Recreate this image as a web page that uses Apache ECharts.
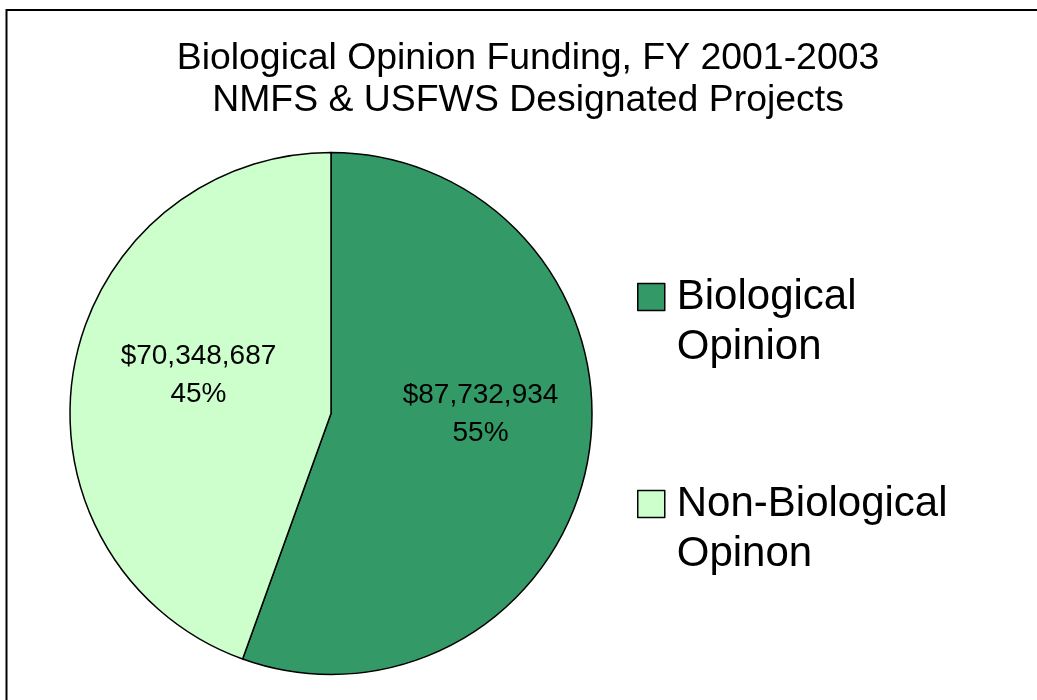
<!DOCTYPE html>
<html>
<head>
<meta charset="utf-8">
<title>Biological Opinion Funding</title>
<script src="https://cdn.jsdelivr.net/npm/echarts@6/dist/echarts.min.js"></script>
<style>
  html, body { margin: 0; padding: 0; background: #fff; }
  #chart { width: 1037px; height: 700px; }
</style>
</head>
<body>
<div id="chart"></div>
<script>
  // 数据
  var categories = ['Biological\nOpinion', 'Non-Biological\nOpinon'];
  var funding = [87732934, 70348687];
  var sliceColors = ['#339966', '#ccffcc'];
  // 标签微调（Excel 的标签位置和 echarts 不完全一样）
  var labelOffsets = [[18, -22], [-1, -15]];

  var total = funding.reduce(function (a, b) { return a + b; }, 0);

  function money(v) {
    return '$' + String(v).replace(/\B(?=(\d{3})+(?!\d))/g, ',');
  }

  var chart = echarts.init(document.getElementById('chart'));
  chart.setOption({
    backgroundColor: '#fff',
    animation: false,
    textStyle: { fontFamily: 'Liberation Sans, Arial, sans-serif' },
    title: {
      text: 'Biological Opinion Funding, FY 2001-2003\nNMFS & USFWS Designated Projects',
      left: 528,
      textAlign: 'center',
      top: 38,
      padding: 0,
      textStyle: {
        color: '#000',
        fontWeight: 'normal',
        fontSize: 37.4,
        lineHeight: 42,
        fontFamily: 'Liberation Sans, Arial, sans-serif'
      }
    },
    legend: {
      orient: 'vertical',
      left: 637,
      top: 222,
      padding: 0,
      itemGap: 57,
      itemWidth: 27,
      itemHeight: 27,
      icon: 'rect',
      data: categories,
      // 多一行空行，让第一行文字和色块对齐
      formatter: function (name) { return '\n' + name; },
      textStyle: {
        color: '#000',
        fontSize: 42,
        lineHeight: 50,
        padding: [0, 0, 0, 7],
        fontFamily: 'Liberation Sans, Arial, sans-serif'
      },
      itemStyle: { borderColor: '#000', borderWidth: 1.5 }
    },
    graphic: [{
      type: 'rect',
      silent: true,
      shape: { x: 6.5, y: 10, width: 1100, height: 800 },
      style: { fill: 'none', stroke: '#000', lineWidth: 2 }
    }],
    series: [{
      type: 'pie',
      center: [331, 413.5],
      radius: 261,
      startAngle: 90,
      clockwise: true,
      avoidLabelOverlap: false,
      emphasis: { disabled: true },
      itemStyle: { borderColor: '#000', borderWidth: 1.5 },
      label: {
        show: true,
        position: 'inside',
        color: '#000',
        fontSize: 28,
        lineHeight: 38,
        fontFamily: 'Liberation Sans, Arial, sans-serif',
        formatter: function (p) {
          return money(p.value) + '\n' + Math.round(p.value / total * 100) + '%';
        }
      },
      labelLine: { show: false },
      data: categories.map(function (name, i) {
        return {
          name: name,
          value: funding[i],
          itemStyle: { color: sliceColors[i] },
          label: { offset: labelOffsets[i] }
        };
      })
    }]
  });
</script>
</body>
</html>
